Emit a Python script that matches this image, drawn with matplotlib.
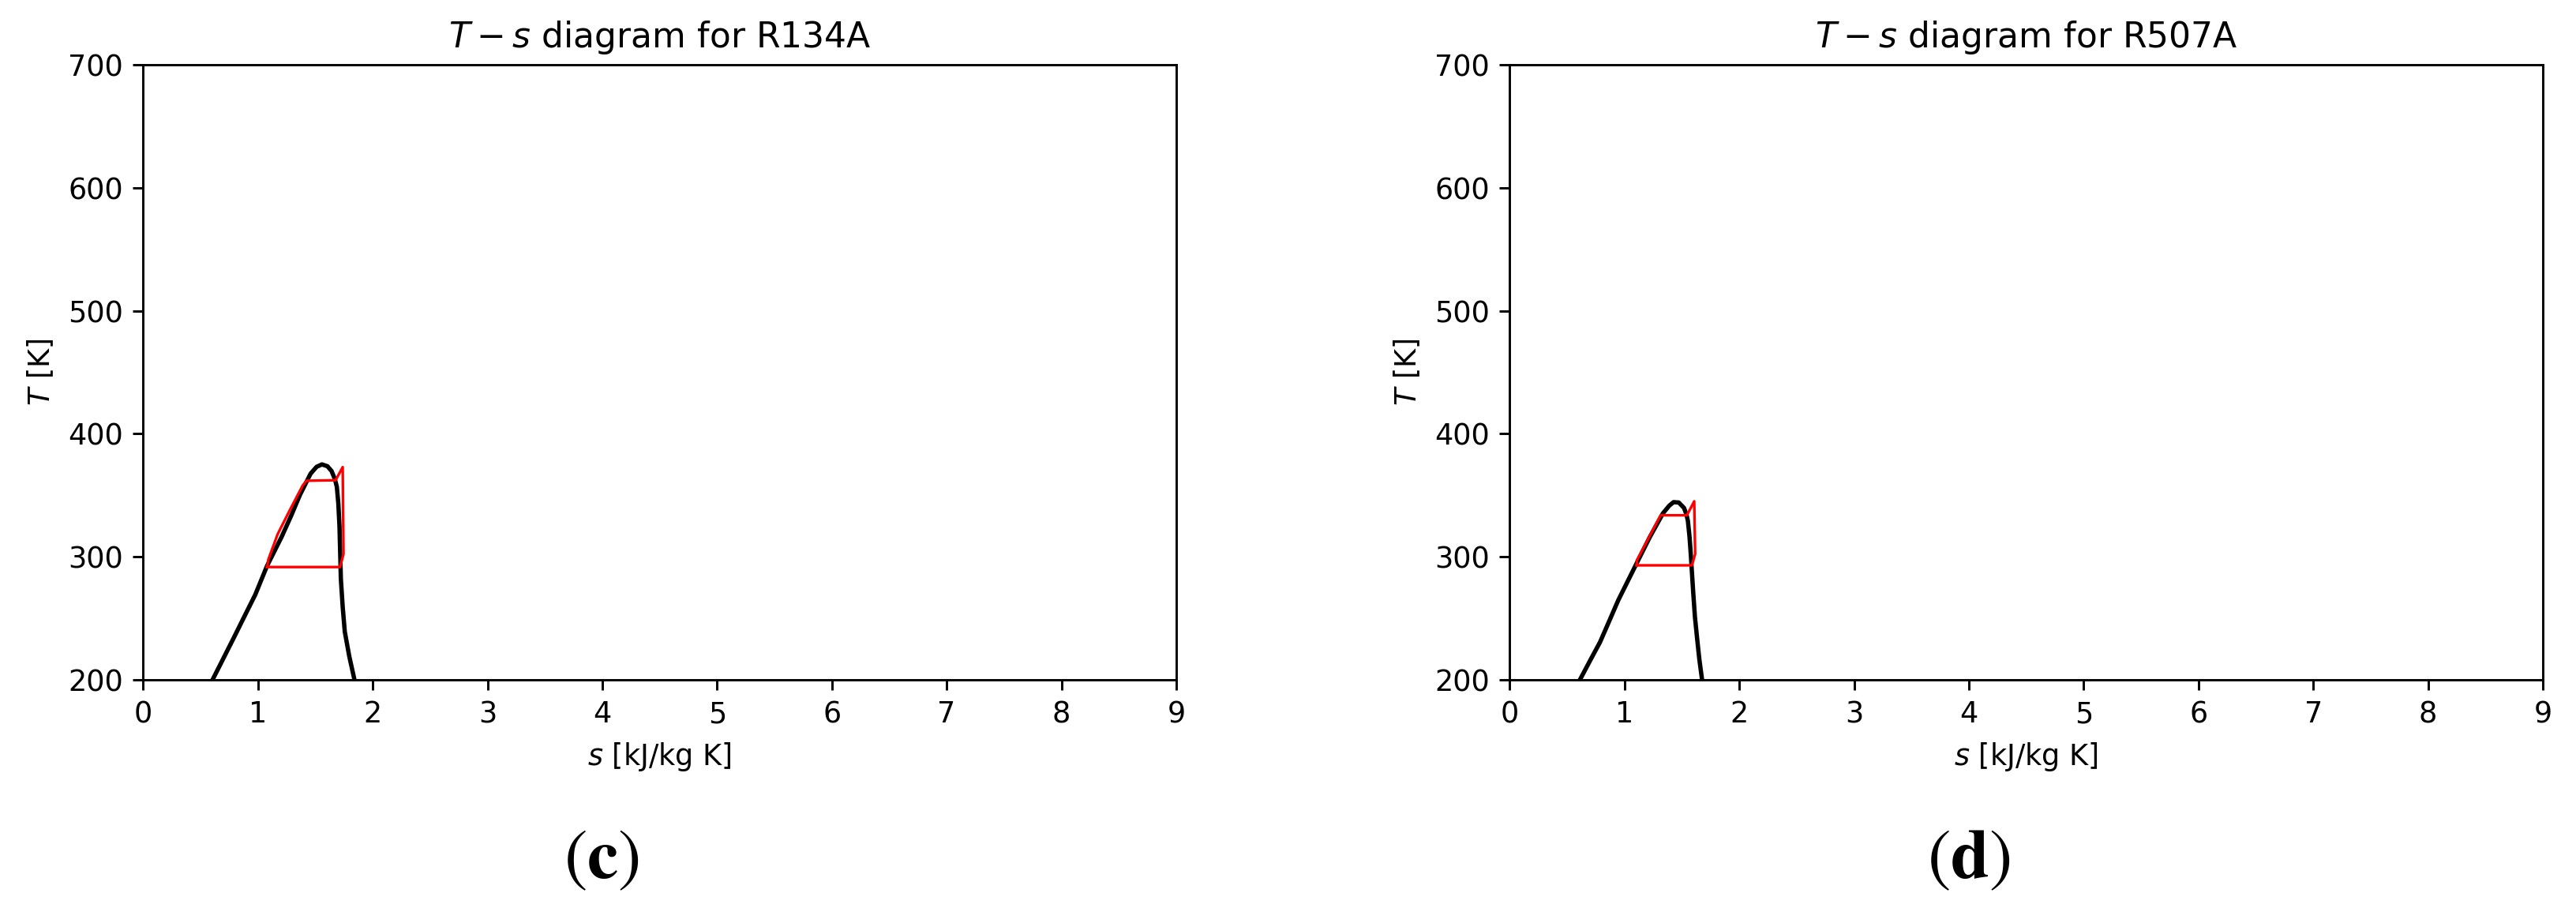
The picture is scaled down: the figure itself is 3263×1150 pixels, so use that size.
import matplotlib.pyplot as plt

# saturation dome (s in kJ/kg K, T in K)
dome_r134a_s = [0.605, 0.700, 0.793, 0.885, 0.976, 1.079, 1.206, 1.290, 1.366, 1.458, 1.510, 1.557, 1.605, 1.641, 1.670, 1.687, 1.700, 1.710, 1.722, 1.738, 1.756, 1.795, 1.840]
dome_r134a_T = [200.0, 217.5, 234.7, 252.0, 269.0, 292.5, 316.1, 333.5, 350.3, 367.4, 373.0, 375.0, 373.5, 369.6, 363.0, 356.7, 343.0, 324.6, 281.8, 259.0, 239.0, 219.0, 200.0]

cycle_r134a_s = [1.079, 1.715, 1.745, 1.738, 1.676, 1.423, 1.389, 1.275, 1.171, 1.091, 1.079]
cycle_r134a_T = [291.5, 291.5, 302.1, 372.8, 362.1, 361.7, 357.8, 337.4, 318.2, 297.9, 291.5]

dome_r507a_s = [0.612, 0.700, 0.786, 0.866, 0.946, 1.106, 1.220, 1.335, 1.390, 1.427, 1.472, 1.518, 1.540, 1.552, 1.566, 1.576, 1.598, 1.613, 1.633, 1.652, 1.675]
dome_r507a_T = [200.0, 215.5, 230.4, 247.5, 264.7, 294.7, 315.9, 335.3, 341.5, 344.3, 344.0, 339.6, 334.0, 328.9, 316.0, 303.2, 271.1, 251.0, 232.6, 216.0, 200.0]

cycle_r507a_s = [1.106, 1.587, 1.615, 1.607, 1.543, 1.314, 1.106, 1.106]
cycle_r507a_T = [292.9, 292.9, 302.1, 345.0, 333.6, 333.6, 296.8, 292.9]

panels = [
    ("R134A", "c", dome_r134a_s, dome_r134a_T, cycle_r134a_s, cycle_r134a_T),
    ("R507A", "d", dome_r507a_s, dome_r507a_T, cycle_r507a_s, cycle_r507a_T),
]

fig = plt.figure(figsize=(3263 / 264, 1150 / 264), dpi=264)
lefts = [0.0556, 0.5861]

for left, (name, tag, ds, dT, cs, cT) in zip(lefts, panels):
    ax = fig.add_axes([left, 0.2516, 0.4010, 0.6770])
    ax.plot(ds, dT, color="black", linewidth=1.5)
    ax.plot(cs, cT, color="red", linewidth=0.9)
    ax.set_xlim(0, 9)
    ax.set_ylim(200, 700)
    ax.set_xticks(range(0, 10))
    ax.set_yticks(range(200, 701, 100))
    ax.set_xlabel("$s$ [kJ/kg K]")
    ax.set_ylabel("$T$ [K]")
    ax.set_title("$T - s$ diagram for " + name)
    fig.text(left + 0.178, 0.054, r"$(\mathbf{" + tag + r"})$", ha="center", va="center",
             fontsize=24, math_fontfamily="stix")

fig.savefig("out.png", dpi=264)
